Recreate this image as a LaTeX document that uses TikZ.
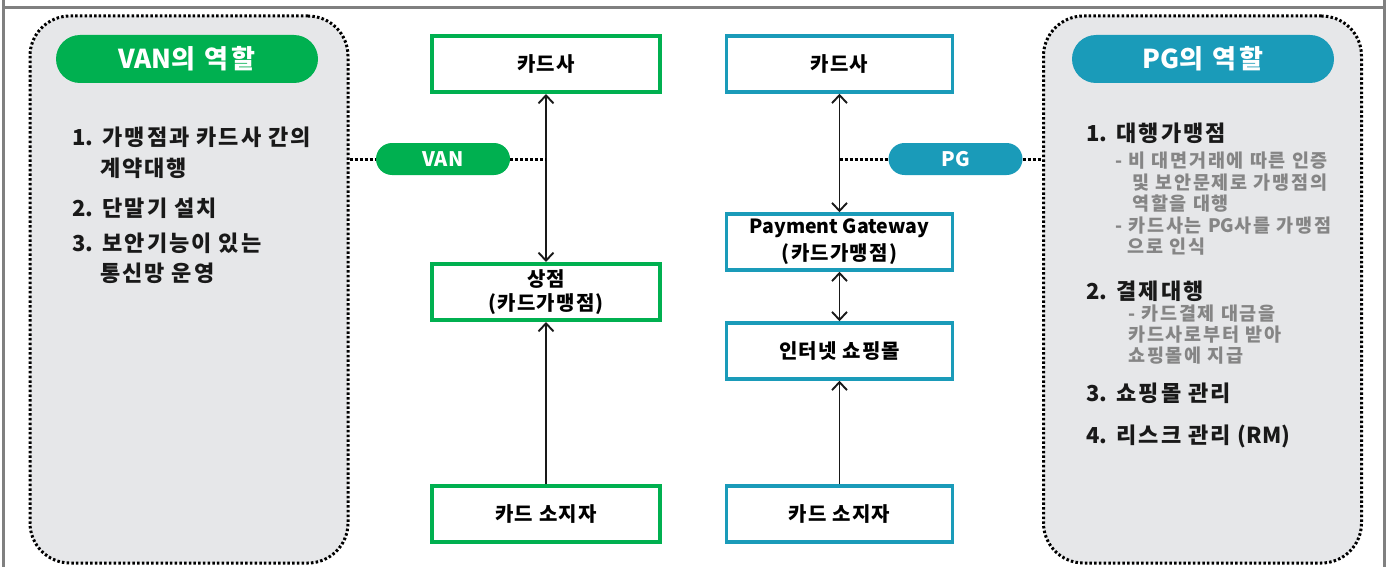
\documentclass[tikz,border=0pt]{standalone}
\usepackage{fontspec}
\setmainfont{Noto Sans CJK KR}
\newfontfamily\lat{Noto Sans CJK KR}
\usetikzlibrary{arrows.meta}
\definecolor{vangreen}{HTML}{00B050}
\definecolor{pgblue}{HTML}{1A9BB9}
\definecolor{panelgray}{HTML}{E6E7E9}
\definecolor{subgray}{HTML}{858585}
\definecolor{framegray}{HTML}{808080}
\newcommand{\ls}[1]{\addfontfeatures{LetterSpace=#1}}
\tikzset{
  panel/.style={draw=black, fill=panelgray, line width=3pt, dash pattern=on 2.5pt off 2.2pt, rounded corners=40pt, minimum width=318pt, minimum height=547pt, inner sep=0pt},
  bigpill/.style={rounded corners=24pt, minimum width=262pt, minimum height=48pt, inner sep=0pt, text=white, font=\fontsize{26}{28}\selectfont\bfseries\ls{12}},
  smallpill/.style={rounded corners=16pt, minimum width=134pt, minimum height=32pt, inner sep=0pt, text=white, font=\lat\fontsize{20}{22}\selectfont\bfseries},
  gbox/.style={draw=vangreen, line width=4pt, fill=white, minimum width=228pt, minimum height=56pt, inner sep=0pt, align=center, font=\fontsize{20}{24}\selectfont\bfseries\ls{6}},
  bbox/.style={draw=pgblue, line width=3.5pt, fill=white, minimum width=226pt, minimum height=56pt, inner sep=0pt, align=center, font=\fontsize{20}{27}\selectfont\bfseries\ls{6}},
  arr/.style={draw=black!90, line width=1.9pt},
  tip/.tip={Straight Barb[length=8pt,width=15pt,line width=1.9pt]},
  dotline/.style={draw=black, line width=3pt, dash pattern=on 3pt off 2pt},
  lst/.style={anchor=west, inner sep=0pt, font=\fontsize{22}{24}\selectfont\bfseries\ls{9}, text=black!90},
  sub/.style={anchor=west, inner sep=0pt, font=\fontsize{18.5}{20}\selectfont\bfseries\ls{10}, text=subgray},
}
\begin{document}
\begin{tikzpicture}[x=1pt,y=-1pt]
\useasboundingbox (0,0) rectangle (1391,567);
% frame
\draw[framegray, line width=3pt] (3,0) -- (3,567) (1384,0) -- (1384,567) (3,8) -- (1384,8);
% panels
\node[panel] (lp) at (189,289.5) {};
\node[panel] (rp) at (1202.5,289.5) {};
\node[bigpill, fill=vangreen] (vanrole) at (187,59) {{\lat VAN}의 역할};
\node[bigpill, fill=pgblue] (pgrole) at (1203,59) {{\lat PG}의 역할};
% left list
\node[lst] (l1) at (72,137) {{\lat 1.} 가맹점과 카드사 간의};
\node[lst] (l1b) at (100,168) {계약대행};
\node[lst] (l2) at (72,208) {{\lat 2.} 단말기 설치};
\node[lst] (l3) at (72,243) {{\lat 3.} 보안기능이 있는};
\node[lst] (l3b) at (100,273) {통신망 운영};
% right list
\node[lst] (r1) at (1086,133) {{\lat 1.} 대행가맹점};
\node[sub] (r1a) at (1115,161) {- 비 대면거래에 따른 인증};
\node[sub] (r1b) at (1132,183) {및 보안문제로 가맹점의};
\node[sub] (r1c) at (1132,204) {역할을 대행};
\node[sub] (r1d) at (1115,226) {- 카드사는 {\lat PG}사를 가맹점};
\node[sub] (r1e) at (1127,247) {으로 인식};
\node[lst] (r2) at (1086,291) {{\lat 2.} 결제대행};
\node[sub] (r2a) at (1128,314) {- 카드결제 대금을};
\node[sub] (r2b) at (1128,335) {카드사로부터 받아};
\node[sub] (r2c) at (1128,356) {쇼핑몰에 지급};
\node[lst] (r3) at (1086,393) {{\lat 3.} 쇼핑몰 관리};
\node[lst] (r4) at (1086,436) {{\lat 4.} 리스크 관리 {\lat (RM)}};
% VAN column
\node[gbox] (gcard) at (546,64) {카드사};
\node[gbox] (gshop) at (546,292) {상점\\(카드가맹점)};
\node[gbox] (gholder) at (546,514) {카드 소지자};
\draw[arr, tip-tip] (gcard.south) -- (gshop.north);
\draw[arr, -tip] (gholder.north) -- (gshop.south);
% PG column
\node[bbox] (bcard) at (839.5,64) {카드사};
\node[bbox] (bpg) at (839.5,242) {{\lat\fontsize{19.5}{27}\selectfont Payment Gateway}\\(카드가맹점)};
\node[bbox] (bmall) at (839.5,351) {인터넷 쇼핑몰};
\node[bbox] (bholder) at (839.5,514) {카드 소지자};
\draw[arr, tip-tip] (bcard.south) -- (bpg.north);
\draw[arr, tip-tip] (bpg.south) -- (bmall.north);
\draw[arr, -tip] (bholder.north) -- (bmall.south);
% small pills and dotted links
\node[smallpill, fill=vangreen] (van) at (443,159) {VAN};
\node[smallpill, fill=pgblue] (pg) at (955.5,159) {PG};
\coordinate (vanend) at (546,159);
\coordinate (pgend) at (839.5,159);
\draw[dotline] (lp.east |- van.west) -- (van.west);
\draw[dotline] (van.east) -- (vanend);
\draw[dotline] (pgend) -- (pg.west);
\draw[dotline] (pg.east) -- (rp.west |- pg.east);
\end{tikzpicture}
\end{document}
